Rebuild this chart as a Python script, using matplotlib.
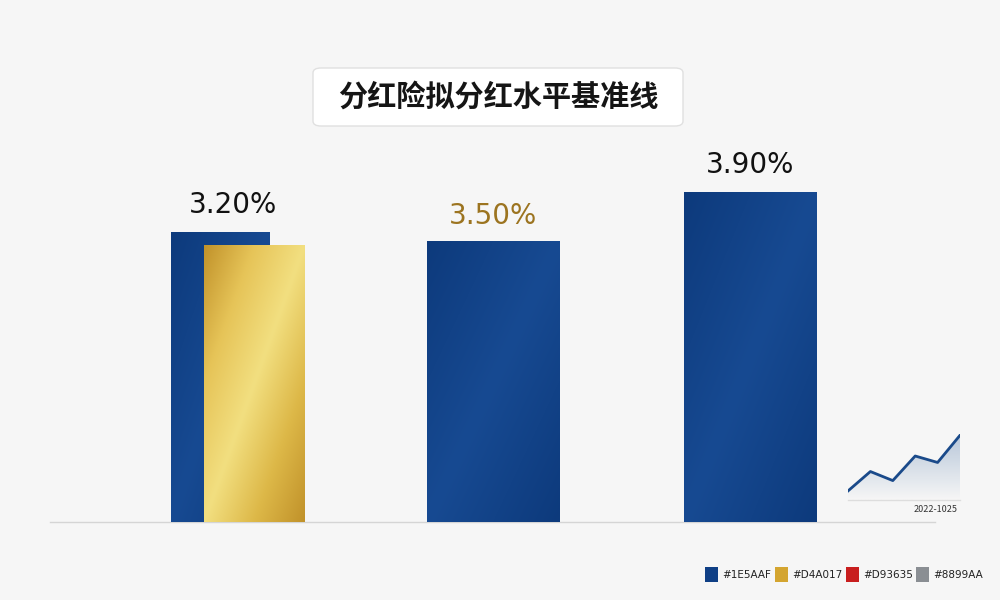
import matplotlib
matplotlib.use("Agg")
import matplotlib.pyplot as plt
import numpy as np
from matplotlib.patches import FancyBboxPatch, Rectangle
from matplotlib.colors import LinearSegmentedColormap

plt.rcParams['font.family'] = ['Noto Sans CJK SC', 'DejaVu Sans']

title = "分红险拟分红水平基准线"
categories = ["A", "B", "C"]
blue_values = [3.43, 3.33, 3.90]
gold_values = [3.28]
value_labels = ["3.20%", "3.50%", "3.90%"]
label_colors = ["#111111", "#9C7420", "#111111"]
trend_values = [0.14, 0.44, 0.3, 0.68, 0.58, 1.0]
trend_label = "2022-1025"
legend_colors = ["#0F3F85", "#D4A530", "#C81E1E", "#8A8E93"]
legend_labels = ["#1E5AAF", "#D4A017", "#D93635", "#8899AA"]

fig = plt.figure(figsize=(10, 6), dpi=100)
fig.patch.set_facecolor("#F6F6F6")
ax = fig.add_axes([0, 0, 1, 1])
ax.set_facecolor("#F6F6F6")
unit = 265.0
ppv = 84.5
ax.set_xlim(-220/unit, 780/unit)
ax.set_ylim(-78/ppv, 522/ppv)
ax.axis("off")

x = np.arange(len(categories))
widths = [0.37, 0.5, 0.5]
offsets = [0, 0.03, 0]
blue = "#0F3F85"
bars = ax.bar(x + np.array(offsets), blue_values, width=widths, color=blue, zorder=2)
bcmap = LinearSegmentedColormap.from_list("b", ["#0D3A7C", "#174A92", "#0D3A7C"])
grad = np.add.outer(np.linspace(0, 0.5, 200), np.linspace(0, 0.5, 200))
for b in bars:
    x0, w, h = b.get_x(), b.get_width(), b.get_height()
    im = ax.imshow(grad, cmap=bcmap, extent=[x0, x0 + w, 0, h], aspect="auto", zorder=2.1,
                   interpolation="bilinear")
    im.set_clip_path(b)
gbar = ax.bar(x[:1] + 0.13, gold_values, width=0.38, color="#D4A530", zorder=3)[0]
gcmap = LinearSegmentedColormap.from_list("g", ["#C1922A", "#E6C458", "#F2DF80", "#DDB848", "#C1922A"])
gx0, gw, gh = gbar.get_x(), gbar.get_width(), gbar.get_height()
im = ax.imshow(grad, cmap=gcmap, extent=[gx0, gx0 + gw, 0, gh], aspect="auto", zorder=3.1,
               interpolation="bilinear")
im.set_clip_path(gbar)

label_y = [3.75, 3.62, 4.22]
for xi, ly, t, c in zip(x, label_y, value_labels, label_colors):
    ax.text(xi + (0.05 if xi == 0 else offsets[xi]), ly, t, ha="center", va="center", fontsize=20,
            color=c, zorder=5, family="DejaVu Sans")

ax.plot([-170/unit, 935/unit - 220/unit], [0, 0], color="#D5D5D5", lw=1, zorder=1)

tb = FancyBboxPatch((0.313, 1 - 0.126/0.6), 0.37, 0.058/0.6, boxstyle="round,pad=0,rounding_size=0.008",
                    transform=fig.transFigure, facecolor="white", edgecolor="#E0E0E0", lw=1)
fig.patches.append(tb)
fig.text(0.498, 1 - 97/600, title, ha="center", va="center", fontsize=21, fontweight="bold", color="#151515")

ia = fig.add_axes([848/1000, 1 - 500/600, 112/1000, 66/600])
ia.set_facecolor("none")
ia.axis("off")
tx = np.arange(len(trend_values))
fcmap = LinearSegmentedColormap.from_list("f", ["#F6F6F6", "#B9C8DA"])
ia.set_xlim(0, len(trend_values) - 1)
ia.set_ylim(0, 1.02)
poly = ia.fill_between(tx, trend_values, 0, color="none")
fim = ia.imshow(np.linspace(1, 0, 64).reshape(-1, 1), cmap=fcmap, extent=[0, len(trend_values) - 1, 0, 1],
                aspect="auto", origin="upper", interpolation="bilinear")
fim.set_clip_path(poly.get_paths()[0], ia.transData)
ia.plot(tx, trend_values, color="#1A4A8A", lw=2)
fig.lines.append(plt.Line2D([848/1000, 960/1000], [1 - 500/600] * 2, transform=fig.transFigure, color="#DDDDDD", lw=1))
fig.text(958/1000, 1 - 509/600, trend_label, ha="right", va="center", fontsize=6.5, color="#333333")

lx = [705, 775, 846, 916]
for px, c, t in zip(lx, legend_colors, legend_labels):
    fig.patches.append(Rectangle((px/1000, 1 - 582/600), 13/1000, 15/600, transform=fig.transFigure,
                                 facecolor=c, edgecolor="none"))
    fig.text((px + 17)/1000, 1 - 575/600, t, ha="left", va="center", fontsize=7.5, color="#222222",
             family="DejaVu Sans")

fig.savefig("out.png", dpi=100, facecolor=fig.get_facecolor())
